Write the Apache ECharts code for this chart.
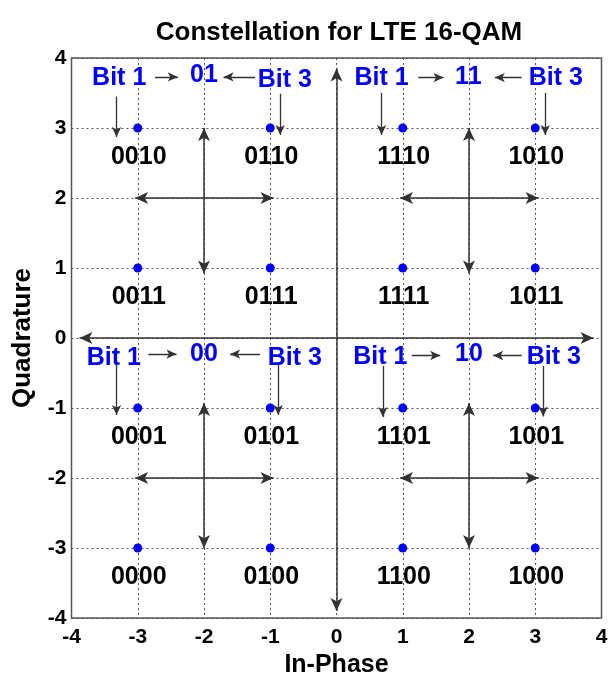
<!DOCTYPE html>
<html>
<head>
<meta charset="utf-8">
<title>Constellation for LTE 16-QAM</title>
<script src="https://cdn.jsdelivr.net/npm/echarts@6/dist/echarts.min.js"></script>
<style>
  html, body { margin: 0; padding: 0; background: #fff; }
  #chart { width: 608px; height: 677px; }
</style>
</head>
<body>
<div id="chart"></div>
<script>
// 16-QAM constellation points (In-Phase, Quadrature) and their bit patterns
const symbolI = [-3, -1, 1, 3, -3, -1, 1, 3, -3, -1, 1, 3, -3, -1, 1, 3];
const symbolQ = [3, 3, 3, 3, 1, 1, 1, 1, -1, -1, -1, -1, -3, -3, -3, -3];
const symbolBits = [
  '0010', '0110', '1110', '1010',
  '0011', '0111', '1111', '1011',
  '0001', '0101', '1101', '1001',
  '0000', '0100', '1100', '1000'
];

// Axis ticks
const axisTicks = [-4, -3, -2, -1, 0, 1, 2, 3, 4];

// Blue quadrant notes: text and anchor (I, Q)
const noteText = [
  'Bit 1', '01', 'Bit 3',
  'Bit 1', '11', 'Bit 3',
  'Bit 1', '00', 'Bit 3',
  'Bit 1', '10', 'Bit 3'
];
const noteI = [-3.28, -2.0, -0.78, 0.68, 1.99, 3.31, -3.36, -2.0, -0.63, 0.66, 2.0, 3.28];
const noteQ = [3.71, 3.75, 3.69, 3.71, 3.72, 3.71, -0.29, -0.23, -0.29, -0.27, -0.23, -0.27];

// Double-headed divider arrows: [I1, Q1, I2, Q2]
const dividerArrows = [
  [-3.88, 0, 3.88, 0],
  [0, 3.85, 0, -3.9],
  [-2, 3.0, -2, 0.92],
  [2, 3.0, 2, 0.92],
  [-2, -0.93, -2, -3.0],
  [2, -0.93, 2, -3.0],
  [-3.04, 2, -0.95, 2],
  [0.96, 2, 3.05, 2],
  [-3.04, -2, -0.95, -2],
  [0.96, -2, 3.05, -2]
];

// Single-headed pointer arrows from the notes: [I1, Q1, I2, Q2]
const pointerArrows = [
  [-2.74, 3.73, -2.395, 3.73],
  [-1.23, 3.73, -1.705, 3.73],
  [-3.32, 3.45, -3.32, 2.87],
  [-0.85, 3.49, -0.85, 2.90],
  [1.235, 3.72, 1.615, 3.72],
  [2.795, 3.72, 2.39, 3.72],
  [0.68, 3.50, 0.68, 2.90],
  [3.15, 3.50, 3.15, 2.90],
  [-2.84, -0.23, -2.415, -0.23],
  [-1.155, -0.23, -1.605, -0.23],
  [-3.32, -0.36, -3.32, -1.10],
  [-0.88, -0.36, -0.88, -1.10],
  [1.135, -0.25, 1.565, -0.25],
  [2.795, -0.25, 2.365, -0.25],
  [0.70, -0.40, 0.70, -1.13],
  [3.12, -0.40, 3.12, -1.12]
];

const FONT = '"Liberation Sans", Arial, Helvetica, sans-serif';
const INK = '#000';
const BLUE = '#0000ff';

const pointData = symbolI.map((x, i) => ({ value: [x, symbolQ[i]], name: symbolBits[i] }));
const noteData = noteI.map((x, i) => ({ value: [x, noteQ[i]], name: noteText[i] }));
const toLine = a => ({ coords: [[a[0], a[1]], [a[2], a[3]]] });

const valueAxis = (extra) => Object.assign({
  type: 'value',
  min: axisTicks[0],
  max: axisTicks[axisTicks.length - 1],
  interval: 1,
  axisLine: { show: false },
  axisTick: { show: false },
  splitLine: {
    show: true,
    lineStyle: { color: '#555', width: 1, type: [2, 3] }
  }
}, extra);

const chart = echarts.init(document.getElementById('chart'), null, { renderer: 'canvas' });

chart.setOption({
  backgroundColor: '#ffffff',
  animation: false,
  title: {
    text: 'Constellation for LTE 16-QAM',
    left: 334,
    top: 13,
    textAlign: 'center',
    textStyle: { fontFamily: FONT, fontWeight: 'bold', fontSize: 26, color: INK, lineHeight: 30 }
  },
  grid: {
    left: 71.5, right: 6.5, top: 58, bottom: 59,
    show: true,
    borderColor: '#555',
    borderWidth: 1.5,
    containLabel: false,
    outerBoundsMode: 'none'
  },
  xAxis: valueAxis({
    name: 'In-Phase',
    nameLocation: 'middle',
    nameGap: 33,
    nameTextStyle: { fontFamily: FONT, fontWeight: 'bold', fontSize: 25, color: INK },
    axisLabel: { fontFamily: FONT, fontWeight: 'bold', fontSize: 21, color: INK, margin: 9 }
  }),
  yAxis: valueAxis({
    name: 'Quadrature',
    nameLocation: 'middle',
    nameGap: 36,
    nameRotate: 90,
    nameTextStyle: { fontFamily: FONT, fontWeight: 'bold', fontSize: 26, color: INK },
    axisLabel: { fontFamily: FONT, fontWeight: 'bold', fontSize: 21, color: INK, margin: 5 }
  }),
  series: [
    {
      name: 'dividers',
      type: 'lines',
      coordinateSystem: 'cartesian2d',
      silent: true,
      symbol: ['arrow', 'arrow'],
      // [start, end] sizes, each as [width, length]
      symbolSize: [[9, 13], [9, 13]],
      lineStyle: { color: '#333', width: 1.5, opacity: 1, curveness: 0 },
      data: dividerArrows.map(toLine),
      z: 3
    },
    {
      name: 'pointers',
      type: 'lines',
      coordinateSystem: 'cartesian2d',
      silent: true,
      symbol: ['none', 'arrow'],
      symbolSize: [[7, 10], [7, 10]],
      lineStyle: { color: '#333', width: 1.3, opacity: 1, curveness: 0 },
      data: pointerArrows.map(toLine),
      z: 3
    },
    {
      name: 'symbols',
      type: 'scatter',
      symbol: 'circle',
      symbolSize: 9,
      itemStyle: { color: BLUE, opacity: 1 },
      label: {
        show: true,
        position: 'inside',
        offset: [1, 29],
        formatter: p => p.name,
        fontFamily: FONT,
        fontWeight: 'bold',
        fontSize: 25,
        color: INK,
        opacity: 1,
        textBorderWidth: 0
      },
      data: pointData,
      z: 4
    },
    {
      name: 'notes',
      type: 'scatter',
      symbolSize: 0,
      silent: true,
      itemStyle: { color: BLUE, opacity: 1 },
      label: {
        show: true,
        position: 'inside',
        formatter: p => p.name,
        fontFamily: FONT,
        fontWeight: 'bold',
        fontSize: 25,
        color: BLUE,
        opacity: 1,
        textBorderWidth: 0
      },
      data: noteData,
      z: 5
    }
  ]
});
</script>
</body>
</html>
